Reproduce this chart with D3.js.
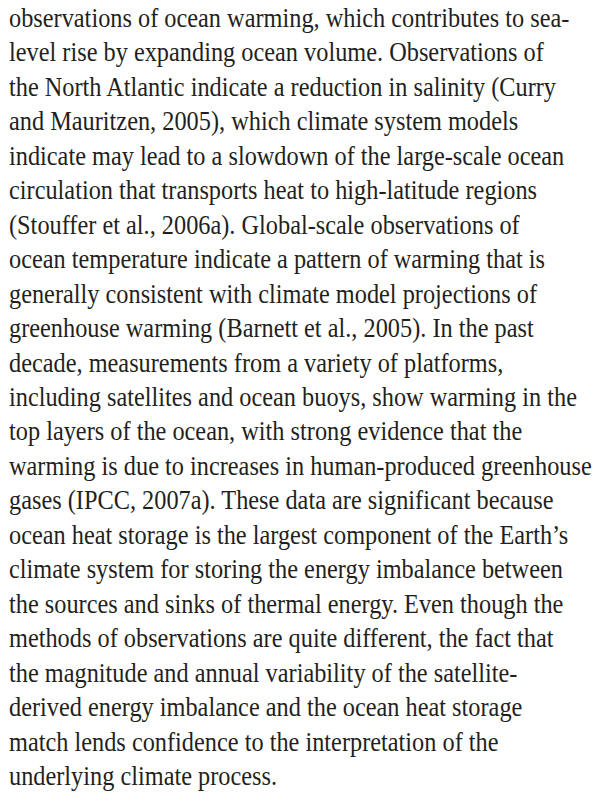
<!DOCTYPE html>
<html>
<head>
<meta charset="utf-8">
<script src="https://cdn.jsdelivr.net/npm/d3@7"></script>
<style>
  html, body { margin: 0; padding: 0; background: #fff; }
  svg text { font-family: "Liberation Serif", "DejaVu Serif", serif; fill: #231f20; }
</style>
</head>
<body>
<svg id="page" width="608" height="797"></svg>
<script>
// Text lines, as set in the reference
var lines = [
  "observations of ocean warming, which contributes to sea-",
  "level rise by expanding ocean volume. Observations of",
  "the North Atlantic indicate a reduction in salinity (Curry",
  "and Mauritzen, 2005), which climate system models",
  "indicate may lead to a slowdown of the large-scale ocean",
  "circulation that transports heat to high-latitude regions",
  "(Stouffer et al., 2006a). Global-scale observations of",
  "ocean temperature indicate a pattern of warming that is",
  "generally consistent with climate model projections of",
  "greenhouse warming (Barnett et al., 2005). In the past",
  "decade, measurements from a variety of platforms,",
  "including satellites and ocean buoys, show warming in the",
  "top layers of the ocean, with strong evidence that the",
  "warming is due to increases in human-produced greenhouse",
  "gases (IPCC, 2007a). These data are significant because",
  "ocean heat storage is the largest component of the Earth\u2019s",
  "climate system for storing the energy imbalance between",
  "the sources and sinks of thermal energy. Even though the",
  "methods of observations are quite different, the fact that",
  "the magnitude and annual variability of the satellite-",
  "derived energy imbalance and the ocean heat storage",
  "match lends confidence to the interpretation of the",
  "underlying climate process."
];

var svg = d3.select("#page");
var left = 9, right = 592;
var fontSize = 27;

// one baseline per line
var yscale = d3.scalePoint()
  .domain(d3.range(lines.length))
  .range([27, 785]);

var body = svg.append("g").classed("body", true);

body.selectAll("text")
  .data(lines)
  .enter()
  .append("text")
  .attr("x", 0)
  .attr("y", function (d, i) { return yscale(i); })
  .style("font-size", fontSize + "px")
  .text(function (d) { return d; });

// Garamond is narrower than Times: squeeze so the widest line fits the measure
var w = d3.max(body.selectAll("text").nodes(), function (n) { return n.getComputedTextLength(); });
var sx = (right - left) / w;
body.attr("transform", "translate(" + left + ",0) scale(" + sx + ",1)");
</script>
</body>
</html>
